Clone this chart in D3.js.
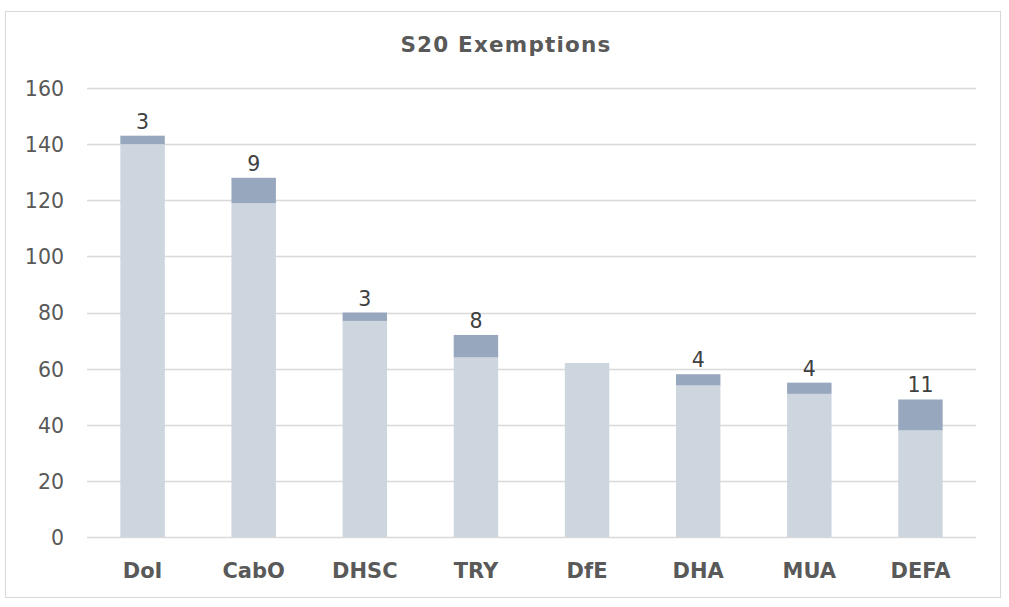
<!DOCTYPE html>
<html><head><meta charset="utf-8">
<script src="https://cdn.jsdelivr.net/npm/d3@7"></script>
<style>body{margin:0;background:#fff;}svg{display:block;}</style>
</head><body>
<svg id="c" width="1009" height="607"></svg>
<script>
const categories = ["DoI","CabO","DHSC","TRY","DfE","DHA","MUA","DEFA"];
const baseValues = [140,119,77,64,62,54,51,38];
const extraValues = [3,9,3,8,0,4,4,11];
const yTicks = [0,20,40,60,80,100,120,140,160];
const title = "S20 Exemptions";

const svg = d3.select("#c");
const W = 1009, H = 607;
const m = {left:87, right:33, top:88, bottom:70};
const font = "'DejaVu Sans', Verdana, sans-serif";

svg.append("rect").attr("x",5.5).attr("y",11.5).attr("width",995).attr("height",586)
  .attr("fill","#fff").attr("stroke","#d9d9d9").attr("stroke-width",1);

const x = d3.scaleBand().domain(categories).range([m.left, W-m.right]).paddingInner(0.6).paddingOuter(0.3);
const y = d3.scaleLinear().domain([0,160]).range([H-m.bottom, m.top]);

// gridlines
svg.append("g").selectAll("line").data(yTicks).join("line")
  .attr("x1",m.left).attr("x2",W-m.right)
  .attr("y1",d=>Math.round(y(d))+0.5).attr("y2",d=>Math.round(y(d))+0.5)
  .attr("stroke","#d9d9d9").attr("stroke-width",1.5);

// y axis labels
const yAxis = d3.axisLeft(y).tickValues(yTicks).tickSize(0).tickPadding(0);
const ya = svg.append("g").attr("transform",`translate(64,0)`).call(yAxis);
ya.select(".domain").remove();
ya.selectAll("text").attr("font-family",font).attr("font-size",20.5).attr("fill","#595959").attr("dy","0.36em");

// x axis labels
const xAxis = d3.axisBottom(x).tickSize(0).tickPadding(0);
const xa = svg.append("g").attr("transform",`translate(0,${y(0)+33})`).call(xAxis);
xa.select(".domain").remove();
xa.selectAll("text").attr("font-family",font).attr("font-size",21).attr("font-weight","bold").attr("fill","#595959").attr("dy","0.36em");

const data = categories.map((c,i)=>({c, base:baseValues[i], extra:extraValues[i]}));

svg.append("g").selectAll("rect").data(data).join("rect")
  .attr("x",d=>x(d.c)).attr("width",x.bandwidth())
  .attr("y",d=>y(d.base)).attr("height",d=>y(0)-y(d.base))
  .attr("fill","#cdd5df");

svg.append("g").selectAll("rect").data(data.filter(d=>d.extra>0)).join("rect")
  .attr("x",d=>x(d.c)).attr("width",x.bandwidth())
  .attr("y",d=>y(d.base+d.extra)).attr("height",d=>y(d.base)-y(d.base+d.extra))
  .attr("fill","#97a7bd");

svg.append("g").selectAll("text").data(data.filter(d=>d.extra>0)).join("text")
  .attr("x",d=>x(d.c)+x.bandwidth()/2).attr("y",d=>y(d.base+d.extra)-7)
  .attr("text-anchor","middle").attr("font-family",font).attr("font-size",20.5).attr("fill","#404040")
  .text(d=>d.extra);

svg.append("text").attr("x",506).attr("y",52).attr("text-anchor","middle")
  .attr("font-family",font).attr("font-size",21.5).attr("font-weight","bold").attr("fill","#595959")
  .attr("letter-spacing",1.2)
  .text(title);
</script>
</body></html>
